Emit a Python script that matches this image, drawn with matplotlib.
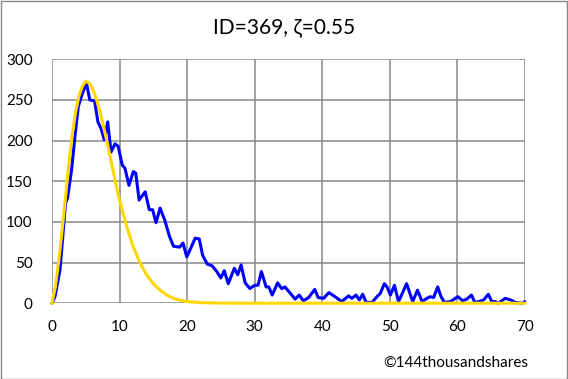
import matplotlib
matplotlib.use("Agg")
import matplotlib.pyplot as plt
from matplotlib.patches import Rectangle

plt.rcParams['font.family'] = ['Lato', 'DejaVu Sans']

title = "ID=369, \u03b6=0.55"
credit = "\u00a9144thousandshares"

x_ticks = [0, 10, 20, 30, 40, 50, 60, 70]
y_ticks = [0, 50, 100, 150, 200, 250, 300]

blue_x = [0, 0.44, 1.19, 1.68, 2.0, 2.3, 2.9, 3.4, 3.9, 4.5, 5.1, 5.6, 6.3, 6.8, 7.26,
          7.75, 8.25, 8.74, 9.33, 9.8, 10.4, 10.8, 11.4, 12.05, 12.4, 12.9, 13.8, 14.4,
          14.9, 15.4, 16.0, 16.7, 17.4, 18.0, 18.9, 19.4, 19.95, 20.4, 21.2, 21.8, 22.3,
          23.0, 23.7, 24.4, 25.0, 25.5, 26.1, 27.0, 27.5, 28.0, 28.6, 29.3, 30.0, 30.5,
          31.0, 31.7, 32.1, 32.6, 33.4, 34.0, 34.5, 35.3, 36.0, 36.6, 37.2, 38.0, 38.9,
          39.4, 40.2, 41.0, 41.9, 42.9, 43.9, 44.4, 45.0, 45.5, 46.0, 46.5, 47.4, 48.1,
          48.6, 49.2, 49.6, 50.1, 50.7, 51.3, 51.96, 52.5, 53.4, 54.1, 54.8, 55.5, 56.0,
          56.5, 57.1, 57.6, 58.1, 59.0, 59.7, 60.1, 60.8, 61.4, 62.1, 62.6, 63.2, 63.9,
          64.6, 65.1, 65.6, 66.1, 67.1, 67.9, 68.6, 69.6, 70.0]
blue_y = [0, 8, 41, 90, 123, 129, 164, 205, 242, 258, 271, 250, 249, 223, 215,
          201, 223, 186, 196, 193, 170, 166, 145, 162, 160, 127, 137, 115,
          115, 99, 117, 102, 82, 70, 69, 74, 57, 65, 80, 79, 59,
          48, 46, 39, 31, 40, 24, 43, 35, 47, 25, 18, 22, 22,
          39, 20, 20, 10, 25, 18, 20, 12, 5, 10, 3, 7, 17,
          7, 6, 13, 8, 2, 9, 6, 10, 4, 11, 1, 1, 8,
          12, 24, 20, 10, 22, 2, 14, 24, 2, 16, 2, 6, 8,
          7, 20, 8, 1, 2, 6, 8, 3, 5, 10, 1, 2, 4,
          11, 2, 2, 0, 6, 4, 1, 0, 2]

yellow_x = [0, 0.5, 1, 1.5, 2, 2.5, 3, 3.5, 4, 4.5, 5, 5.5, 6, 6.5, 7, 7.5, 8, 8.5,
            9, 9.5, 10, 11, 12, 13, 14, 15, 16, 17, 18, 19, 20, 22, 25, 30, 70]
yellow_y = [0, 20, 52, 90, 130, 172, 207, 235, 255, 267, 273, 271, 264, 253, 239, 222,
            204, 185, 165, 145, 127, 96, 70, 50, 35, 24, 16, 10, 6, 3.5, 2, 0.7, 0.1, 0, 0]

fig = plt.figure(figsize=(5.68, 3.79), dpi=100)
ax = fig.add_axes([0.0915, 0.2, 0.8325, 0.6435])

grid_c = '#878787'
ax.set_xlim(0, 70)
ax.set_ylim(0, 300)
ax.set_xticks(x_ticks)
ax.set_yticks(y_ticks)
ax.grid(True, color=grid_c, linewidth=1.1)
ax.set_axisbelow(True)
for s in ax.spines.values():
    s.set_visible(False)
ax.tick_params(length=0, labelsize=11, colors='black')
ax.tick_params(axis='x', pad=12)
ax.tick_params(axis='y', pad=14)

ax.plot(blue_x, blue_y, color='#0000FF', linewidth=2.2, solid_joinstyle='round',
        solid_capstyle='round', zorder=3, clip_on=False)
ax.plot(yellow_x, yellow_y, color='#FFD700', linewidth=2.2, solid_joinstyle='round',
        zorder=4, clip_on=False)

fig.text(0.5, 0.928, title, ha='center', va='center', fontsize=15)
fig.text(0.802, 0.043, credit, ha='center', va='center', fontsize=11)

fig.patches.append(Rectangle((0.5 / 568, 0.5 / 379), 1 - 1.5 / 568, 1 - 1.5 / 379,
                             transform=fig.transFigure, fill=False,
                             edgecolor='#898989', linewidth=1))

fig.savefig('out.png', dpi=100)
